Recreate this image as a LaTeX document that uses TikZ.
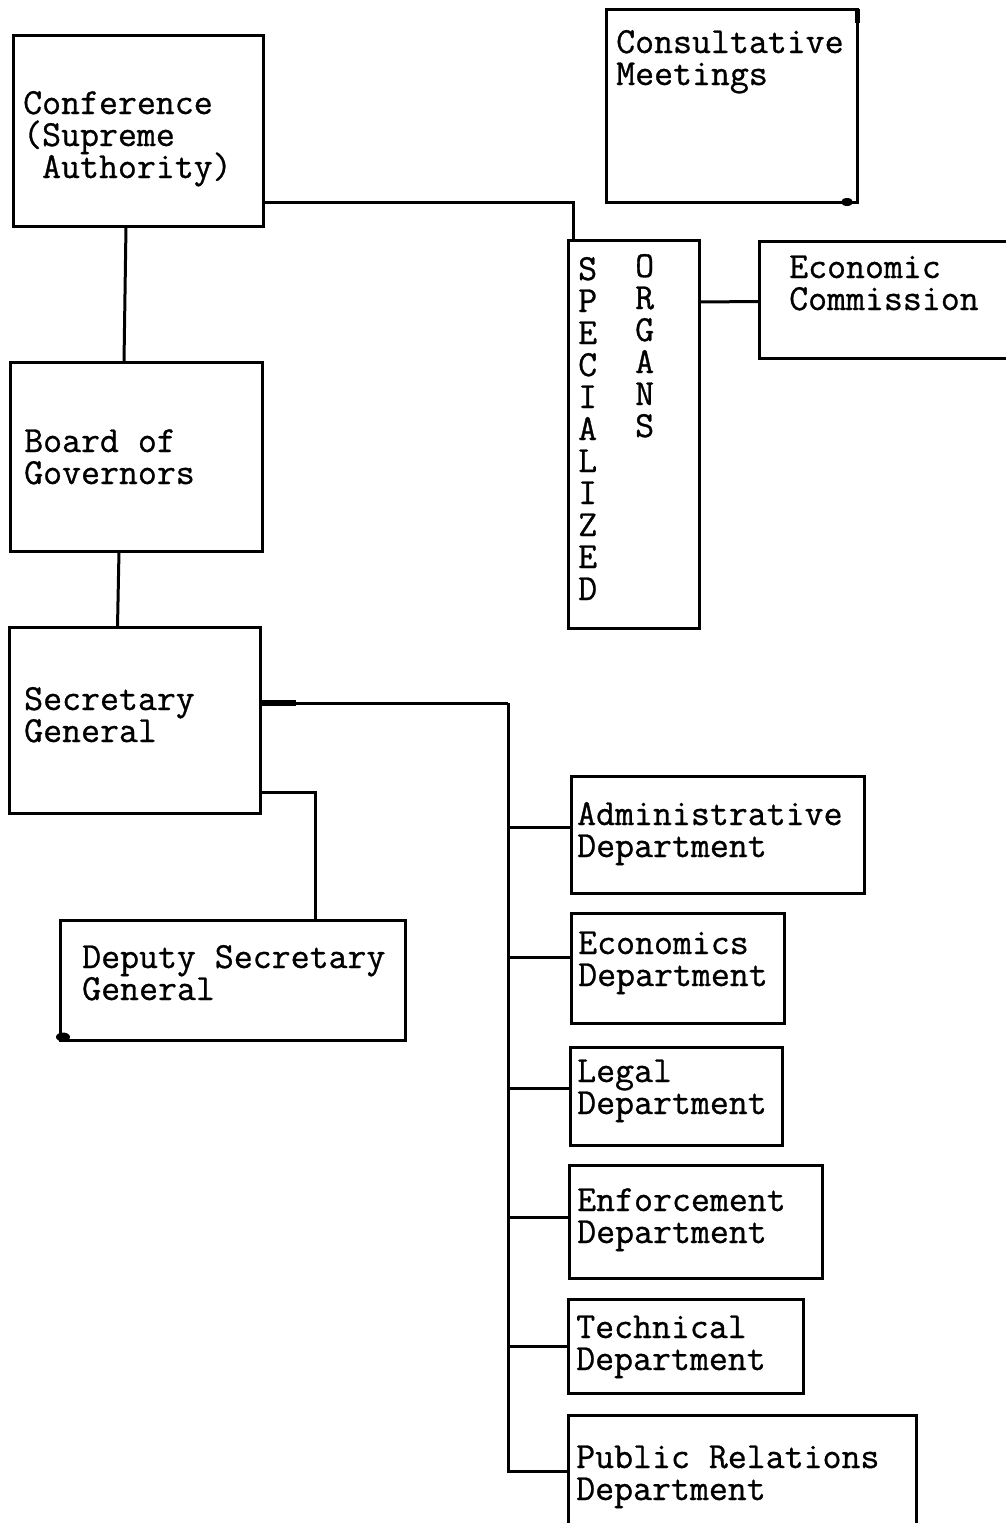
\documentclass[tikz,border=0pt]{standalone}
\usepackage{fontspec}
\usepackage{tikz}

\newfontfamily\typewriter{lmmono12-regular}[Extension=.otf, FakeBold=0.8]
\newcommand{\typefont}{\fontsize{36.8}{32}\selectfont\typewriter\lineskiplimit=-100pt}

\tikzset{
  orgbox/.style={draw, line width=3pt, anchor=north west, inner sep=0pt, outer sep=0pt},
  orgtext/.style={font=\typefont, align=left, anchor=base west, inner sep=0pt},
  link/.style={line width=3pt},
  blob/.style={fill=black}
}

\begin{document}
\begin{tikzpicture}[x=1pt, y=-1pt]
\clip (0,0) rectangle (1006,1523);

% --- Top of the organisation (text anchored at last baseline) ---
\node[orgbox, minimum width=250pt, minimum height=191pt] (conf) at (13,35) {};
\node[orgtext] (conf-txt) at (23,178) {Conference\\(Supreme\\\phantom{(}Authority)};

\node[orgbox, minimum width=251pt, minimum height=193pt] (cons) at (606,9) {};
\node[orgtext] (cons-txt) at (616,85) {Consultative\\Meetings};

\node[orgbox, minimum width=131pt, minimum height=388pt] (spec) at (568,240) {};
\node[orgtext, align=center] (spec-a) at (578,600) {S\\P\\E\\C\\I\\A\\L\\I\\Z\\E\\D};
\node[orgtext, align=center] (spec-b) at (635,437) {O\\R\\G\\A\\N\\S};

\node[orgbox, minimum width=280pt, minimum height=117pt] (econ) at (759,241) {};
\node[orgtext] (econ-txt) at (789,310) {Economic\\Commission};

\node[orgbox, minimum width=252pt, minimum height=189pt] (board) at (10,362) {};
\node[orgtext] (board-txt) at (24,484) {Board of\\Governors};

\node[orgbox, minimum width=251pt, minimum height=186pt] (sec) at (9,627) {};
\node[orgtext] (sec-txt) at (24,742) {Secretary\\General};

\node[orgbox, minimum width=345pt, minimum height=120pt] (dep) at (60,920) {};
\node[orgtext] (dep-txt) at (82,1000) {Deputy Secretary\\General};

% --- Departments ---
\node[orgbox, minimum width=293pt, minimum height=117pt] (adm) at (571,776) {};
\node[orgtext] (adm-txt) at (577,857) {Administrative\\Department};

\node[orgbox, minimum width=213pt, minimum height=110pt] (eco) at (571,913) {};
\node[orgtext] (eco-txt) at (578,986) {Economics\\Department};

\node[orgbox, minimum width=212pt, minimum height=98pt] (leg) at (570,1047) {};
\node[orgtext] (leg-txt) at (577,1114) {Legal\\Department};

\node[orgbox, minimum width=253pt, minimum height=113pt] (enf) at (569,1165) {};
\node[orgtext] (enf-txt) at (577,1243) {Enforcement\\Department};

\node[orgbox, minimum width=235pt, minimum height=94pt] (tec) at (568,1299) {};
\node[orgtext] (tec-txt) at (576,1370) {Technical\\Department};

\node[orgbox, minimum width=348pt, minimum height=112pt] (pub) at (568,1415) {};
\node[orgtext] (pub-txt) at (576,1500) {Public Relations\\Department};

% --- Connectors ---
\draw[link] ([yshift=24pt]conf.south east) -| ([xshift=5pt]spec.north west);
\draw[link] ([xshift=-12pt]conf.south) -- ([xshift=-12pt]board.north);
\draw[link] ([xshift=-17pt]board.south) -- ([xshift=-17pt]sec.north);
\draw[link] ([yshift=132pt]spec.east) -- ([yshift=-2pt]econ.west);
\draw[link] ([yshift=-72pt]sec.east) -| ([xshift=83pt]dep.north);

\coordinate (trunk) at (508,703);
\draw[link] ([yshift=17pt]sec.east) -- (trunk);
\draw[link] ([yshift=7pt]adm.west) -| (trunk);
\draw[link] ([yshift=11pt]eco.west) -| (trunk);
\draw[link] ([yshift=8pt]leg.west) -| (trunk);
\draw[link] ([yshift=4pt]enf.west) -| (trunk);
\draw[link] (tec.west) -| (trunk);
\draw[link] (pub.west) -| (trunk);

% --- ink blots of the original ---
\draw[line width=5.5pt] ([yshift=17pt]sec.east) -- ++(36,0);
\draw[line width=5pt] (cons.north east) -- ++(0,14);
\fill[blob] ([xshift=-10pt]cons.south east) ellipse [x radius=6, y radius=4];
\fill[blob] (dep.south west) ++(3,-3) ellipse [x radius=7, y radius=4.5];

\end{tikzpicture}
\end{document}
